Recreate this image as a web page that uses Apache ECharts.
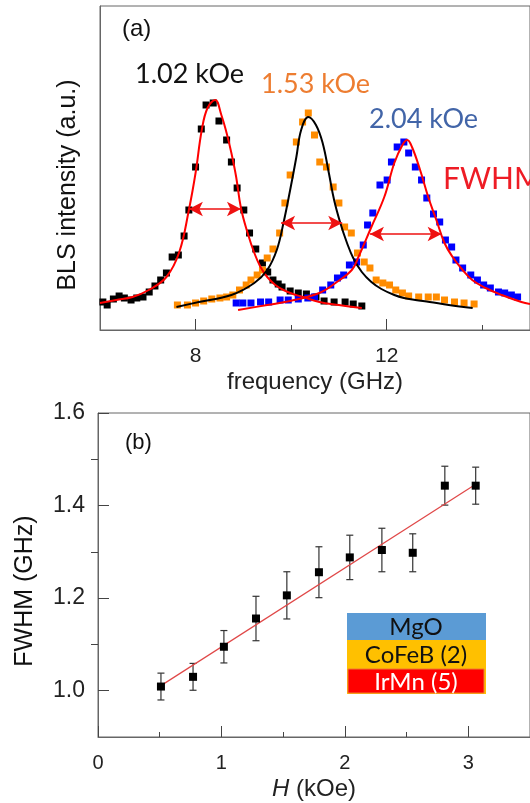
<!DOCTYPE html>
<html>
<head>
<meta charset="utf-8">
<script src="https://cdn.jsdelivr.net/npm/echarts@6/dist/echarts.min.js"></script>
<style>
html,body{margin:0;padding:0;background:#fff;}
#chart{width:530px;height:803px;}
</style>
</head>
<body>
<div id="chart"></div>
<script>
// ---------- Panel (a): BLS spectra (frequency GHz, intensity a.u.) ----------
const dataBlack = [[6.06,0.28],[6.15,0.25],[6.28,0.31],[6.40,0.34],[6.51,0.32],[6.65,0.30],[6.77,0.32],[6.90,0.33],[7.03,0.38],[7.15,0.44],[7.27,0.50],[7.39,0.57],[7.51,0.73],[7.64,0.75],[7.76,0.94],[7.86,1.20],[8.00,1.63],[8.12,2.01],[8.22,2.25],[8.37,2.27],[8.49,2.09],[8.65,1.90],[8.75,1.68],[8.87,1.42],[9.01,1.20],[9.13,0.97],[9.26,0.81],[9.40,0.67],[9.51,0.58],[9.62,0.50],[9.73,0.46],[9.81,0.43],[9.98,0.39],[10.15,0.37],[10.32,0.36],[10.52,0.33],[10.69,0.29],[10.90,0.28],[11.13,0.28],[11.30,0.26],[11.48,0.24]];
const dataOrange = [[7.62,0.25],[7.83,0.25],[8.00,0.27],[8.17,0.29],[8.34,0.31],[8.51,0.32],[8.65,0.33],[8.78,0.35],[8.92,0.40],[9.06,0.45],[9.16,0.50],[9.29,0.55],[9.40,0.60],[9.50,0.72],[9.62,0.81],[9.76,0.97],[9.87,1.27],[9.98,1.55],[10.11,1.88],[10.24,2.08],[10.36,2.17],[10.49,1.95],[10.60,1.68],[10.74,1.63],[10.88,1.43],[11.00,1.27],[11.12,1.03],[11.26,0.97],[11.39,0.77],[11.53,0.68],[11.65,0.62],[11.78,0.50],[11.92,0.47],[12.06,0.45],[12.19,0.40],[12.33,0.37],[12.46,0.34],[12.67,0.33],[12.87,0.33],[13.04,0.33],[13.21,0.30],[13.42,0.28],[13.62,0.27],[13.83,0.26]];
const dataBlue = [[8.85,0.27],[8.99,0.27],[9.16,0.27],[9.36,0.28],[9.53,0.28],[9.77,0.30],[9.94,0.30],[10.15,0.31],[10.35,0.32],[10.49,0.33],[10.66,0.40],[10.83,0.45],[10.97,0.52],[11.10,0.55],[11.22,0.65],[11.37,0.68],[11.51,0.85],[11.60,1.05],[11.71,1.17],[11.86,1.45],[12.01,1.50],[12.10,1.68],[12.22,1.83],[12.36,1.88],[12.46,1.77],[12.60,1.63],[12.73,1.50],[12.84,1.32],[12.98,1.16],[13.11,1.08],[13.23,0.90],[13.36,0.83],[13.45,0.70],[13.59,0.62],[13.76,0.55],[13.90,0.50],[14.03,0.45],[14.17,0.42],[14.34,0.38],[14.47,0.37],[14.61,0.35],[14.74,0.33]];
const fitBlack = [[6.00,0.27],[6.34,0.30],[6.68,0.33],[7.02,0.40],[7.39,0.53],[7.66,0.78],[7.86,1.20],[8.00,1.57],[8.13,2.00],[8.25,2.22],[8.41,2.30],[8.54,2.15],[8.65,1.97],[8.75,1.77],[8.85,1.53],[8.95,1.22],[9.09,0.97],[9.23,0.77],[9.36,0.63],[9.50,0.53],[9.67,0.45],[9.84,0.40],[10.04,0.36],[10.25,0.33],[10.59,0.28],[11.00,0.25],[11.48,0.22]];
const fitOrange = [[7.60,0.23],[8.07,0.28],[8.75,0.35],[9.23,0.47],[9.50,0.60],[9.70,0.80],[9.84,1.07],[9.98,1.40],[10.11,1.73],[10.21,2.00],[10.36,2.13],[10.52,2.05],[10.66,1.87],[10.79,1.57],[10.90,1.30],[11.03,1.07],[11.17,0.87],[11.30,0.72],[11.48,0.58],[11.68,0.48],[11.89,0.41],[12.16,0.35],[12.36,0.32],[12.60,0.30],[12.90,0.28],[13.30,0.25],[13.80,0.22]];
const fitBlue = [[8.89,0.20],[9.50,0.25],[9.98,0.29],[10.59,0.37],[10.93,0.47],[11.27,0.60],[11.40,0.72],[11.68,1.03],[11.95,1.33],[12.16,1.67],[12.33,1.85],[12.43,1.90],[12.53,1.83],[12.70,1.60],[12.87,1.33],[13.04,1.10],[13.21,0.87],[13.38,0.73],[13.59,0.60],[13.79,0.50],[14.07,0.42],[14.41,0.35],[14.82,0.28],[15.00,0.26]];
// FWHM arrows: [fStart, fEnd, level]
const arrowBlack = [7.86, 8.95, 1.21];
const arrowOrange = [9.79, 11.07, 1.07];
const arrowBlue = [11.65, 13.15, 0.96];
const freqMajorTicks = [8, 12];
const freqMinorTicks = [10, 14];
const fieldLabels = ['1.02 kOe', '1.53 kOe', '2.04 kOe'];

// ---------- Panel (b): FWHM vs H ----------
const fieldH = [0.51,0.77,1.02,1.28,1.53,1.79,2.04,2.30,2.55,2.81,3.06];
const fwhmVals = [1.009,1.030,1.095,1.156,1.206,1.256,1.288,1.304,1.298,1.443,1.443];
const fwhmErr = [0.029,0.029,0.035,0.048,0.051,0.055,0.048,0.047,0.041,0.042,0.040];
const fitLineH = [0.51, 3.06];
const fitLineF = [1.011, 1.446];
const hMajorTicks = [0, 1, 2, 3];
const hMinorTicks = [0.5, 1.5, 2.5];
const fMajorTicks = [1.0, 1.2, 1.4, 1.6];
const fMinorTicks = [1.1, 1.3, 1.5];
const layers = ['MgO', 'CoFeB (2)', 'IrMn (5)'];

const AX = '#666';
const TXT = '#222';
const SANS = 'Liberation Sans, Arial, sans-serif';
const CAL = 'Lato, Open Sans, sans-serif';

const chart = echarts.init(document.getElementById('chart'), null, {renderer:'canvas'});

function arrowMark(a){
  return {
    silent: true, animation: false,
    symbol: ['arrow','arrow'], symbolSize: [11, 14],
    label: {show:false},
    lineStyle: {color:'#ee1111', width:1.5, type:'solid', opacity:1},
    itemStyle: {color:'#ee1111'},
    emphasis: {disabled:true},
    data: [[{coord:[a[0], a[2]]}, {coord:[a[1], a[2]]}]]
  };
}

const option = {
  animation: false,
  grid: [
    {left:100, top:6, width:440, height:324, show:true, borderColor:AX, borderWidth:1},
    {left:98, top:413, width:434, height:324, show:true, borderColor:AX, borderWidth:1}
  ],
  xAxis: [
    {gridIndex:0, type:'value', min:6, max:15, position:'bottom',
     axisLine:{show:true, lineStyle:{color:AX, width:1}},
     axisTick:{show:true, inside:true, length:11, customValues:freqMajorTicks, lineStyle:{color:'#444'}},
     axisLabel:{show:true, customValues:freqMajorTicks, fontSize:21, color:TXT, fontFamily:SANS, margin:16},
     splitLine:{show:false},
     name:'frequency (GHz)', nameLocation:'middle', nameGap:40,
     nameTextStyle:{fontSize:24, color:TXT, fontFamily:SANS}},
    {gridIndex:0, type:'value', min:6, max:15, position:'bottom',
     axisLine:{show:false},
     axisTick:{show:true, inside:true, length:5, customValues:freqMinorTicks, lineStyle:{color:'#444'}},
     axisLabel:{show:false}, splitLine:{show:false}},
    {gridIndex:1, type:'value', min:0, max:3.5, position:'bottom',
     axisLine:{show:true, lineStyle:{color:AX, width:1}},
     axisTick:{show:true, inside:true, length:11, customValues:hMajorTicks, lineStyle:{color:'#444'}},
     axisLabel:{show:true, customValues:hMajorTicks, fontSize:20, color:TXT, fontFamily:SANS, margin:16},
     splitLine:{show:false},
     name:'{i|H} (kOe)', nameLocation:'middle', nameGap:40,
     nameTextStyle:{fontSize:24, color:TXT, fontFamily:SANS,
       rich:{i:{fontStyle:'italic', fontSize:24, color:TXT, fontFamily:SANS}}}},
    {gridIndex:1, type:'value', min:0, max:3.5, position:'bottom',
     axisLine:{show:false},
     axisTick:{show:true, inside:true, length:5, customValues:hMinorTicks, lineStyle:{color:'#444'}},
     axisLabel:{show:false}, splitLine:{show:false}}
  ],
  yAxis: [
    {gridIndex:0, type:'value', min:0, max:3.24,
     axisLine:{show:true, lineStyle:{color:AX, width:1}},
     axisTick:{show:false}, axisLabel:{show:false}, splitLine:{show:false}},
    {gridIndex:1, type:'value', min:0.9, max:1.6,
     axisLine:{show:true, lineStyle:{color:AX, width:1}},
     axisTick:{show:true, inside:true, length:11, customValues:fMajorTicks, lineStyle:{color:'#444'}},
     axisLabel:{show:true, customValues:fMajorTicks, fontSize:23, color:TXT, fontFamily:SANS, margin:13,
       formatter:(v)=>Number(v).toFixed(1)},
     splitLine:{show:false}},
    {gridIndex:1, type:'value', min:0.9, max:1.6,
     axisLine:{show:false},
     axisTick:{show:true, inside:true, length:7, customValues:fMinorTicks, lineStyle:{color:'#444'}},
     axisLabel:{show:false}, splitLine:{show:false}}
  ],
  series: [
    {type:'scatter', xAxisIndex:0, yAxisIndex:0, data:dataBlack, symbol:'rect', symbolSize:7,
     itemStyle:{color:'#000', opacity:1}, silent:true},
    {type:'scatter', xAxisIndex:0, yAxisIndex:0, data:dataOrange, symbol:'rect', symbolSize:7,
     itemStyle:{color:'#ff8c00', opacity:1}, silent:true},
    {type:'scatter', xAxisIndex:0, yAxisIndex:0, data:dataBlue, symbol:'rect', symbolSize:7,
     itemStyle:{color:'#0000ff', opacity:1}, silent:true},
    {type:'line', xAxisIndex:0, yAxisIndex:0, data:fitBlack, smooth:0.4, showSymbol:false, symbol:'none',
     lineStyle:{color:'#ff0000', width:2}, silent:true, z:3, markLine:arrowMark(arrowBlack)},
    {type:'line', xAxisIndex:0, yAxisIndex:0, data:fitOrange, smooth:0.4, showSymbol:false, symbol:'none',
     lineStyle:{color:'#000', width:2}, silent:true, z:3, markLine:arrowMark(arrowOrange)},
    {type:'line', xAxisIndex:0, yAxisIndex:0, data:fitBlue, smooth:0.4, showSymbol:false, symbol:'none',
     lineStyle:{color:'#ff0000', width:2}, silent:true, z:3, markLine:arrowMark(arrowBlue)},
    // panel b
    {type:'custom', xAxisIndex:2, yAxisIndex:1,
     data: fieldH.map((h,i)=>[h, fwhmVals[i], fwhmErr[i]]),
     renderItem: function(params, api){
       const x = api.value(0), y = api.value(1), e = api.value(2);
       const t = api.coord([x, y+e]), b = api.coord([x, y-e]);
       const cw = 3.5, st = {stroke:'#333', lineWidth:1.2};
       return {type:'group', children:[
         {type:'line', shape:{x1:t[0], y1:t[1], x2:b[0], y2:b[1]}, style:st},
         {type:'line', shape:{x1:t[0]-cw, y1:t[1], x2:t[0]+cw, y2:t[1]}, style:st},
         {type:'line', shape:{x1:b[0]-cw, y1:b[1], x2:b[0]+cw, y2:b[1]}, style:st}
       ]};
     }, silent:true, z:2},
    {type:'line', xAxisIndex:2, yAxisIndex:1, data: fitLineH.map((h,i)=>[h, fitLineF[i]]),
     showSymbol:false, symbol:'none', lineStyle:{color:'#e04848', width:1.2}, silent:true, z:3},
    {type:'scatter', xAxisIndex:2, yAxisIndex:1, data: fieldH.map((h,i)=>[h, fwhmVals[i]]),
     symbol:'rect', symbolSize:8, itemStyle:{color:'#000', opacity:1}, silent:true, z:4}
  ],
  graphic: [
    {type:'text', x:122, y:29, style:{text:'(a)', font:'24px '+SANS, fill:'#111', verticalAlign:'middle'}},
    {type:'text', x:135, y:74, style:{text:fieldLabels[0], font:'27px '+CAL, fill:'#111', verticalAlign:'middle'}},
    {type:'text', x:261, y:84, style:{text:fieldLabels[1], font:'27px '+CAL, fill:'#ed7d31', verticalAlign:'middle'}},
    {type:'text', x:369, y:119, style:{text:fieldLabels[2], font:'27px '+CAL, fill:'#4265a8', verticalAlign:'middle'}},
    {type:'text', x:443, y:179, style:{text:'FWHM', font:'30px '+CAL, fill:'#ee1c25', verticalAlign:'middle'}},
    {type:'text', x:68, y:185, rotation:Math.PI/2, style:{text:'BLS intensity (a.u.)', font:'25px '+SANS, fill:'#111', align:'center', verticalAlign:'middle'}},
    {type:'text', x:125, y:443, style:{text:'(b)', font:'22px '+SANS, fill:'#111', verticalAlign:'middle'}},
    {type:'text', x:25, y:591, rotation:Math.PI/2, style:{text:'FWHM (GHz)', font:'25px '+SANS, fill:'#111', align:'center', verticalAlign:'middle'}},
    {type:'rect', shape:{x:347, y:613, width:139, height:27}, style:{fill:'#5b9bd5'}},
    {type:'rect', shape:{x:347, y:640, width:139, height:54}, style:{fill:'#ffc000'}},
    {type:'rect', shape:{x:348, y:669, width:136, height:24}, style:{fill:'#ff0000', stroke:'#ed7d31', lineWidth:1}},
    {type:'text', x:416, y:627, style:{text:layers[0], font:'24px '+CAL, fill:'#111', align:'center', verticalAlign:'middle'}},
    {type:'text', x:416, y:655, style:{text:layers[1], font:'24px '+CAL, fill:'#111', align:'center', verticalAlign:'middle'}},
    {type:'text', x:416, y:682, style:{text:layers[2], font:'24px '+CAL, fill:'#fff', align:'center', verticalAlign:'middle'}}
  ]
};
chart.setOption(option);
</script>
</body>
</html>
